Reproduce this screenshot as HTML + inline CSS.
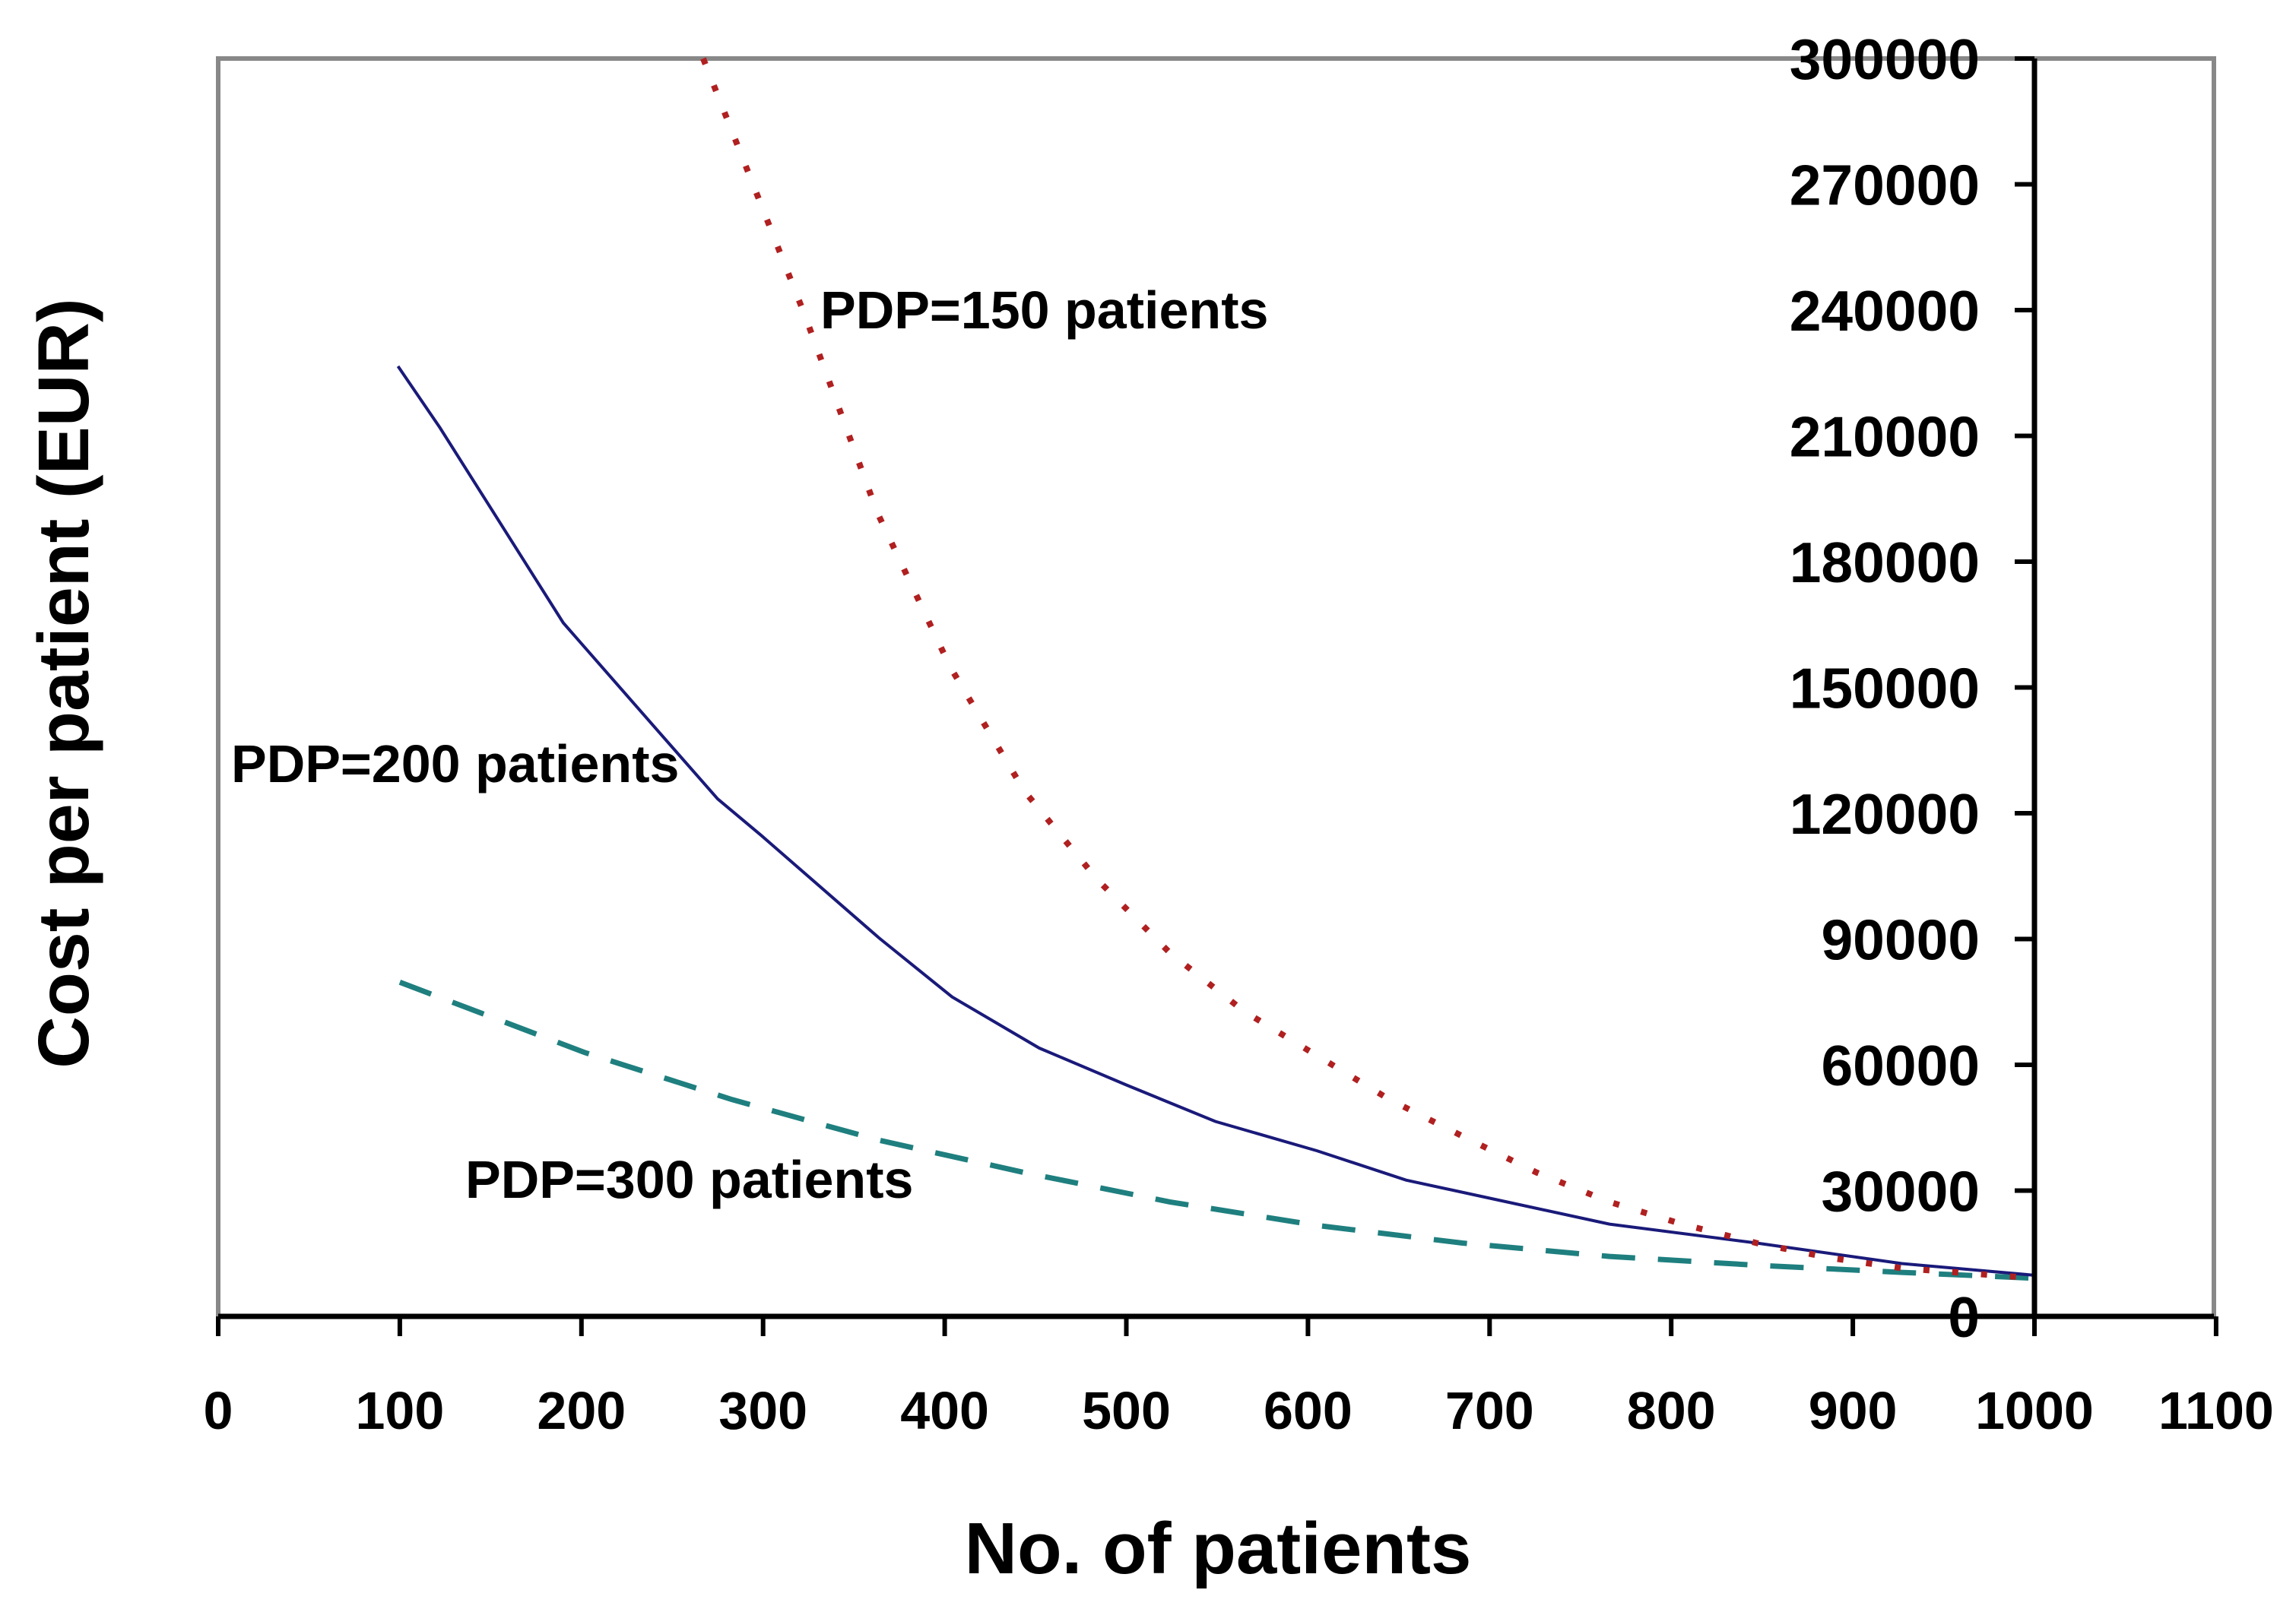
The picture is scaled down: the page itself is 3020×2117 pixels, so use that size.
<!DOCTYPE html>
<html><head><meta charset="utf-8"><style>
html,body{margin:0;padding:0;background:#fff;}
svg{display:block;}
text{font-family:"Liberation Sans",Arial,sans-serif;font-weight:bold;fill:#000;}
</style></head><body>
<svg id="chart" width="3020" height="2117" viewBox="0 0 3020 2117" xmlns="http://www.w3.org/2000/svg">
<rect x="0" y="0" width="3020" height="2117" fill="#fff"/>
<g id="frame"></g>
<g id="series"></g>
<g id="axes"></g>
<text x="1079" y="432" font-size="70">PDP=150 patients</text>
<text x="304" y="1029" font-size="70">PDP=200 patients</text>
<text x="612" y="1576" font-size="70">PDP=300 patients</text>
<text x="1602" y="2070" font-size="96" text-anchor="middle">No. of patients</text>
<text x="0" y="0" font-size="95" text-anchor="middle" transform="translate(116,899) rotate(-90)">Cost per patient (EUR)</text>
</svg>
<script>
const xTicks=[0,100,200,300,400,500,600,700,800,900,1000,1100];
const yTicks=[0,30000,60000,90000,120000,150000,180000,210000,240000,270000,300000];
const redN=[267,323,363,403,444,484,524,565,605,645,685,726,766,806,847,887,927,1000];
const redV=[300000,238800,191600,154900,125200,104200,86700,72700,62200,51700,43000,34300,27300,22000,17500,14000,11500,9100];
const blueN=[99,122,190,243,275,299,364,404,452,500,549,605,654,702,766,847,927,1000];
const blueV=[226600,212000,165400,139200,123400,114700,90200,76200,64000,55200,46500,39500,32500,28000,22000,17500,12600,9800];
const tealN=[100,202,283,364,444,524,605,685,766,847,927,1000];
const tealV=[79700,62900,51700,42000,34300,27300,21700,17500,14300,12200,10500,9100];

const NS="http://www.w3.org/2000/svg";
const X0=287,X1000=2676,Y0=1732,Y300=77;
const sx=v=>X0+(X1000-X0)*v/1000;
const sy=v=>Y0-(Y0-Y300)*v/300000;
function mk(tag,attrs,parent){const e=document.createElementNS(NS,tag);for(const k in attrs)e.setAttribute(k,attrs[k]);parent.appendChild(e);return e;}
const frame=document.getElementById('frame'),series=document.getElementById('series'),axes=document.getElementById('axes');
let f=mk('path',{d:`M287,1732 V77 H2912 V1732`,fill:'none',stroke:'#888',"stroke-width":6},frame);


function line(N,V,stroke,w,dash,name){
  const d=N.map((n,i)=>(i?'L':'M')+sx(n).toFixed(1)+','+sy(V[i]).toFixed(1)).join(' ');
  const p=mk('path',{d:d,fill:'none',stroke:stroke,"stroke-width":w,"stroke-dasharray":dash},series);
  
  
}
line(tealN,tealV,'#1f7f7f',7,'44,30','series-pdp-300');
line(blueN,blueV,'#1a1a7a',4,'none','series-pdp-200');
line(redN,redV,'#b02020',8,'8,30','series-pdp-150');
let xa=mk('line',{x1:287,y1:Y0,x2:2912,y2:Y0,stroke:'#000',"stroke-width":7},axes);


let ya=mk('line',{x1:X1000,y1:77,x2:X1000,y2:Y0,stroke:'#000',"stroke-width":7},axes);


xTicks.forEach(t=>{
  const x=sx(t);
  mk('line',{x1:x,y1:Y0,x2:x,y2:Y0+26,stroke:'#000',"stroke-width":6},axes);
  const tx=mk('text',{x:x,y:1880,"font-size":70,"text-anchor":"middle"},axes);
  tx.textContent=t;
  
  
});
yTicks.forEach(t=>{
  const y=sy(t);
  mk('line',{x1:X1000-26,y1:y,x2:X1000,y2:y,stroke:'#000',"stroke-width":6},axes);
  const tx=mk('text',{x:2604,y:y+27,"font-size":75,"text-anchor":"end"},axes);
  tx.textContent=t;
  
  
});
</script>
</body></html>
